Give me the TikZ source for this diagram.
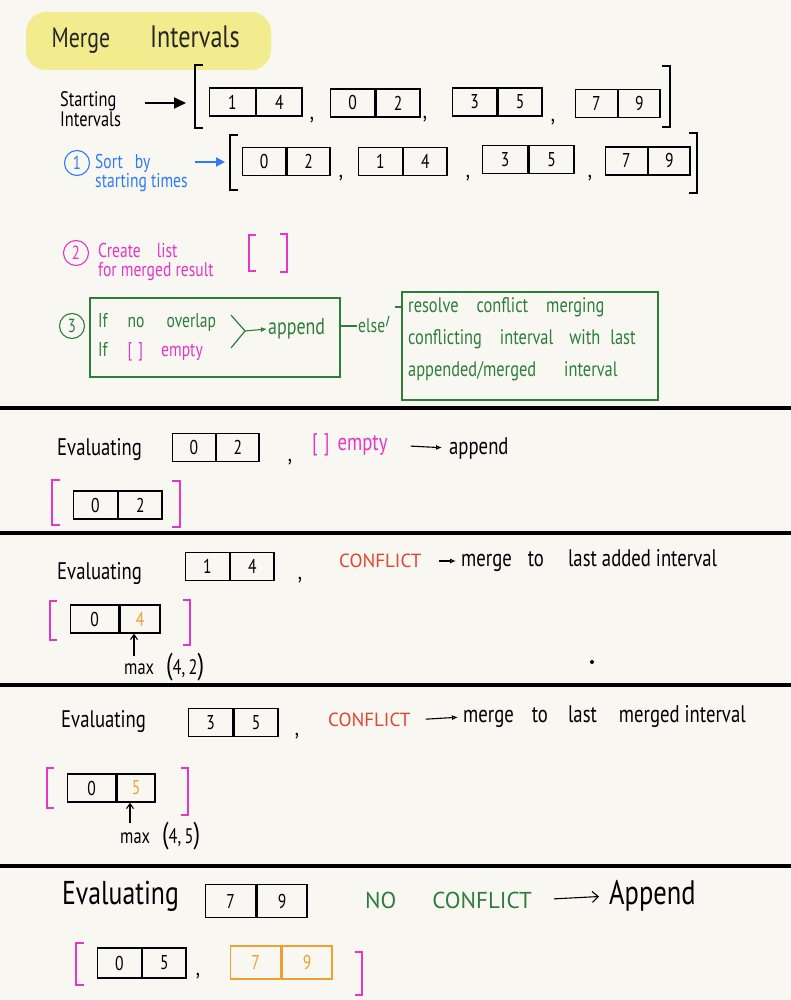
\documentclass[tikz,border=0pt]{standalone}
\usepackage{fontspec}
\setmainfont[FakeStretch=0.78]{PT Sans}
\newfontfamily\capsfont{PT Sans}
\usetikzlibrary{arrows.meta,calc}
\definecolor{bg}{HTML}{F8F7F2}
\definecolor{hl}{HTML}{F3EC8E}
\definecolor{pblue}{HTML}{2F7BF5}
\definecolor{pmag}{HTML}{E536C8}
\definecolor{pgreen}{HTML}{2E7D3B}
\definecolor{pred}{HTML}{E0452E}
\definecolor{porange}{HTML}{F0A030}
\newcommand{\ivl}[7][]{%
  \node[cell,#1,minimum width=#5,anchor=west] (#2a) at (#3,#4) {#6};
  \node[cell,#1,minimum width=#5,anchor=west] (#2b) at (#2a.east) {#7};}
\begin{document}
\begin{tikzpicture}[x=1pt,y=-1pt,
  cell/.style={draw,line width=1.4pt,inner sep=0pt,minimum height=28pt,font=\fontsize{20}{20}\selectfont},
  brk/.style={line width=1.5pt},
  pbrk/.style={line width=1.5pt,draw=pmag},
  sep/.style={line width=4.5pt},
  hand/.style={font=\fontsize{24}{26}\selectfont,inner sep=1pt},
  small/.style={font=\fontsize{20}{19}\selectfont,inner sep=1pt},
  caps/.style={font=\capsfont\fontsize{19}{19}\selectfont,inner sep=1pt},
  comma/.style={font=\fontsize{24}{24}\selectfont,inner sep=0pt},
  num/.style={circle,draw,line width=1.1pt,inner sep=1.2pt,minimum size=25pt,font=\fontsize{19}{19}\selectfont},
  arr/.style={-{Latex[length=6pt,width=5pt,open]},line width=1.1pt},
  up/.style={-{Straight Barb[length=5pt,width=7pt]},line width=1.1pt},
  maxf/.style={font=\fontsize{21}{21}\selectfont,anchor=west,inner sep=0pt}]
\useasboundingbox (0,0) rectangle (791,1000);
\fill[bg] (0,0) rectangle (791,1000);

% title
\fill[hl,rounded corners=20pt] (26,12) rectangle (271,70);
\node[font=\fontsize{28}{28}\selectfont,text=black!85,anchor=west] (title) at (48,40) {Merge\hspace{40pt}{\fontsize{31}{31}\selectfont Intervals}};

% starting intervals
\node[align=left,font=\fontsize{21}{18}\selectfont,anchor=west,inner sep=0pt] (start) at (60,109) {Starting\\Intervals};
\coordinate (b1l) at (186,103);
\draw[line width=1.8pt,-{Triangle[length=12pt,width=11pt]}] (145,103) -- (b1l);
\draw[brk] (203,65) -- (195,65) -- (195,128) -- (203,128);
\draw[brk] (662,66) -- (670,66) -- (670,127) -- (662,127);
\ivl{r1}{209}{102}{45.5}{1}{4}
\node[comma] (r1c1) at (312,120) {,};
\ivl{r2}{330}{103}{44}{0}{2}
\node[comma] (r1c2) at (425,119) {,};
\ivl{r3}{452}{102}{44}{3}{5}
\node[comma] (r1c3) at (553,122) {,};
\ivl{r4}{575}{103.5}{41.5}{7}{9}

% step 1
\node[num,draw=pblue,text=pblue] (c1) at (77,163) {1};
\node[small,text=pblue,align=left,anchor=west] (sort) at (94,173) {Sort\hspace{12pt}by\\starting times};
\coordinate (s1) at (195,162);
\coordinate (b2l) at (225,162);
\draw[pblue,line width=1.8pt,-{Triangle[length=9pt,width=9pt]}] (s1) -- (b2l);
\draw[brk] (238,135) -- (230,135) -- (230,190) -- (238,190);
\draw[brk] (689,133) -- (697,133) -- (697,193) -- (689,193);
\ivl{q1}{242}{161.5}{43}{0}{2}
\node[comma] (q1c1) at (341,178) {,};
\ivl{q2}{358}{161.5}{43.5}{1}{4}
\node[comma] (q1c2) at (468,178) {,};
\ivl{q3}{482}{159.5}{45}{3}{5}
\node[comma] (q1c3) at (590,178) {,};
\ivl{q4}{605}{161}{41.5}{7}{9}

% step 2
\node[num,draw=pmag,text=pmag] (c2) at (76,253) {2};
\node[small,text=pmag,align=left,anchor=west] (create) at (97,262) {Create\hspace{16pt}list\\for merged result};
\draw[pbrk] (256,235) -- (249,235) -- (249,271) -- (256,271);
\draw[pbrk] (280,234) -- (287,234) -- (287,272) -- (280,272);

% step 3
\node[num,draw=pgreen,text=pgreen] (c3) at (72,326) {3};
\node[draw=pgreen,line width=1.3pt,minimum width=250pt,minimum height=79pt] (cond) at (215,337.5) {};
\node[small,text=pgreen,anchor=west] (ifno) at (97,322) {If\hspace{20pt}no\hspace{22pt}overlap};
\node[small,anchor=west] (ifemp) at (97,352) {\textcolor{pgreen}{If}\hspace{20pt}\textcolor{pmag}{[\hspace{6pt}]\hspace{18pt}empty}};
\coordinate (j1) at (231,315);
\coordinate (j2) at (231,348);
\coordinate (jm) at (245,331);
\node[font=\fontsize{23}{23}\selectfont,text=pgreen,anchor=west,inner sep=1pt] (app) at (267,329) {append};
\draw[pgreen,line width=1.2pt] (j1) -- (jm) -- (j2);
\draw[pgreen,arr] (jm) -- (app.west);
\node[small,text=pgreen,anchor=west] (else) at (357,326) {else};
\draw[pgreen,line width=1.2pt] (cond.east |- else) -- (else.west);
\node[draw=pgreen,line width=1.3pt,minimum width=256pt,minimum height=108pt] (res) at (530,346) {};
\coordinate (e1) at (389,316);
\coordinate (e2) at (395,307);
\draw[pgreen,line width=1.1pt] (else.east) -- (e1);
\draw[pgreen,line width=1.1pt] (e2) -- (res.west |- e2);
\node[text=pgreen,align=left,anchor=north west,font=\fontsize{21}{32}\selectfont,inner sep=0pt] (restxt) at (408,297)
  {resolve\hspace{18pt}conflict\hspace{18pt}merging\\conflicting\hspace{18pt}interval\hspace{16pt}with\hspace{10pt}last\\appended/merged\hspace{28pt}interval};

% separators
\draw[sep] (0,408) -- (791,408);
\draw[sep] (0,533) -- (791,533);
\draw[sep] (0,685) -- (791,685);
\draw[sep] (0,866) -- (791,866);

% section 1
\node[hand,anchor=west] (ev1) at (56,450) {Evaluating};
\ivl{s1}{172}{447.5}{42.5}{0}{2}
\node[comma] (s1c) at (290,462) {,};
\node[hand,text=pmag,anchor=west] (emp1) at (311,445) {[\hspace{6pt}]\hspace{8pt}empty};
\node[hand,anchor=west] (ap1) at (448,448) {append};
\draw[arr,shorten <=22pt,shorten >=6pt] (emp1.east) -- (ap1.west);
\draw[pbrk] (60,480) -- (52,480) -- (52,525) -- (60,525);
\draw[pbrk] (172,481) -- (180,481) -- (180,527) -- (172,527);
\ivl{l1}{73}{505}{43.5}{0}{2}

% section 2
\node[hand,anchor=west] (ev2) at (56,574) {Evaluating};
\ivl{s2}{185}{566.5}{43.5}{1}{4}
\node[comma] (s2c) at (300,580) {,};
\node[caps,text=pred,anchor=west] (conf2) at (338,561) {CONFLICT};
\node[hand,anchor=west] (mg2) at (460,561) {merge\hspace{16pt}to\hspace{24pt}last added interval};
\draw[arr,shorten <=16pt,shorten >=4pt] (conf2.east) -- (mg2.west);
\draw[pbrk] (57,601) -- (50,601) -- (50,640) -- (57,640);
\draw[pbrk] (183,600) -- (190,600) -- (190,645) -- (183,645);
\node[cell,minimum width=48pt,anchor=west] (l2a) at (70,619) {0};
\node[cell,minimum width=40pt,anchor=west,text=porange] (l2b) at (l2a.east) {4};
\node[maxf] (max2) at (124,667) {max\hspace{12pt}{\fontsize{30}{30}\selectfont(}4,\,2{\fontsize{30}{30}\selectfont)}};
\coordinate (u2) at (134,656);
\draw[up] (u2) -- (u2 |- l2b.south);
\fill (592,662) circle (2pt);

% section 3
\node[hand,anchor=west] (ev3) at (60,722) {Evaluating};
\ivl{s3}{188}{722.5}{44}{3}{5}
\node[comma] (s3c) at (297,736) {,};
\node[caps,text=pred,anchor=west] (conf3) at (327,720) {CONFLICT};
\node[hand,anchor=west] (mg3) at (462,717) {merge\hspace{18pt}to\hspace{20pt}last\hspace{22pt}merged interval};
\draw[arr,shorten <=14pt,shorten >=4pt] (conf3.east) -- (mg3.west);
\draw[pbrk] (54,768) -- (47,768) -- (47,808) -- (54,808);
\draw[pbrk] (181,768) -- (188,768) -- (188,815) -- (181,815);
\node[cell,minimum width=48pt,anchor=west] (l3a) at (67,788) {0};
\node[cell,minimum width=38pt,anchor=west,text=porange] (l3b) at (l3a.east) {5};
\node[maxf] (max3) at (120,836) {max\hspace{12pt}{\fontsize{30}{30}\selectfont(}4,\,5{\fontsize{30}{30}\selectfont)}};
\coordinate (u3) at (130,823);
\draw[up] (u3) -- (u3 |- l3b.south);

% section 4
\node[font=\fontsize{33}{34}\selectfont,anchor=west,inner sep=0pt] (ev4) at (62,896) {Evaluating};
\ivl[minimum height=33pt]{s4}{205}{901}{50}{7}{9}
\node[font=\capsfont\fontsize{23}{23}\selectfont,text=pgreen,anchor=west,inner sep=0pt] (noc) at (365,900) {NO\hspace{36pt}CONFLICT};
\node[font=\fontsize{34}{34}\selectfont,anchor=west,inner sep=0pt] (ap4) at (609,896) {Append};
\draw[line width=1.1pt,-{Straight Barb[length=6pt,width=11pt]},shorten <=22pt,shorten >=10pt] (noc.east) -- (ap4.west);
\draw[pbrk] (84,943) -- (76,943) -- (76,985) -- (84,985);
\draw[pbrk] (355,952) -- (362,952) -- (362,995) -- (355,995);
\ivl[minimum height=30pt]{l4}{97}{963}{43.5}{0}{5}
\node[comma] (l4c) at (198,976) {,};
\ivl[minimum height=33pt,draw=porange,text=porange]{o4}{230}{962.5}{50}{7}{9}
\end{tikzpicture}
\end{document}
